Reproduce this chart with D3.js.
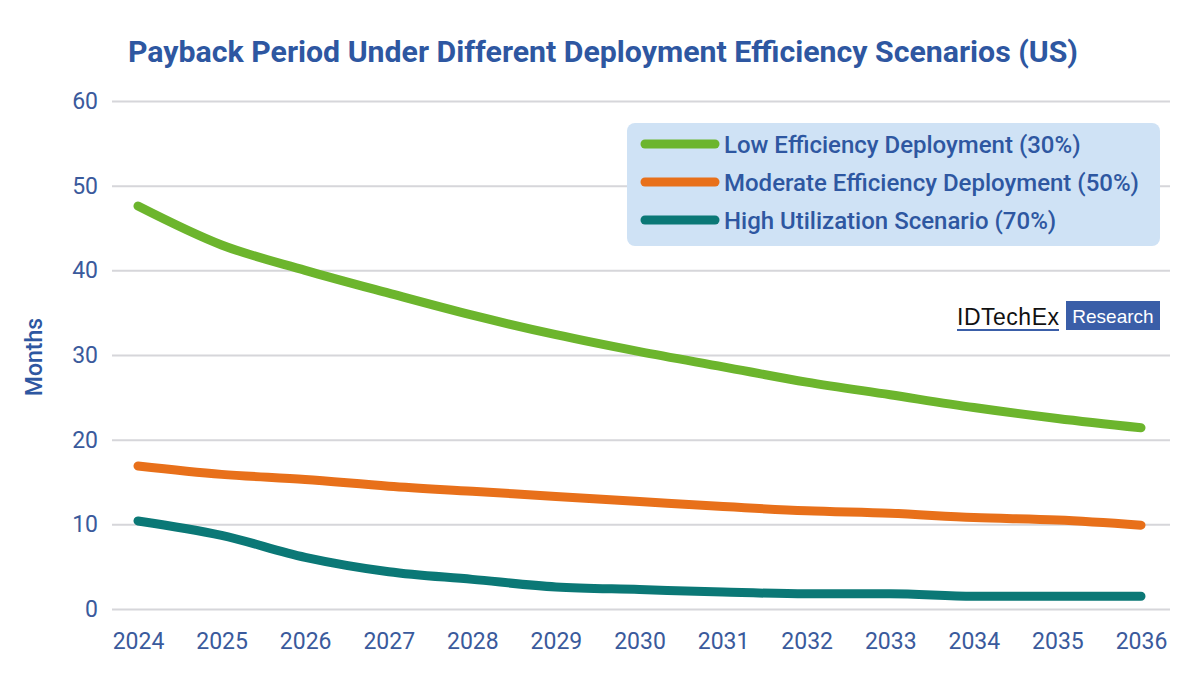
<!DOCTYPE html>
<html>
<head>
<meta charset="utf-8">
<script src="https://cdn.jsdelivr.net/npm/d3@7"></script>
<style>
  body { margin: 0; background: #fff; }
  svg { display: block; font-family: Roboto, 'Noto Sans', sans-serif; }
</style>
</head>
<body>
<svg id="chart" width="1200" height="675"></svg>
<script>
'use strict';

// Data.
const years = [2024, 2025, 2026, 2027, 2028, 2029, 2030, 2031, 2032, 2033, 2034, 2035, 2036];
const lowEff = [47.6, 43.0, 40.0, 37.3, 34.7, 32.4, 30.4, 28.6, 26.8, 25.3, 23.8, 22.5, 21.4];
const modEff = [16.9, 15.9, 15.3, 14.5, 13.9, 13.3, 12.7, 12.1, 11.6, 11.3, 10.8, 10.5, 9.9];
const highUtil = [10.4, 8.7, 6.1, 4.4, 3.5, 2.6, 2.3, 2.0, 1.8, 1.8, 1.5, 1.5, 1.5];
const seriesNames = ['Low Efficiency Deployment (30%)', 'Moderate Efficiency Deployment (50%)', 'High Utilization Scenario (70%)'];
const seriesColors = ['#6cb52d', '#e8701a', '#0b7876'];
const yTicks = [0, 10, 20, 30, 40, 50, 60];

const width = 1200;
const height = 675;
const margin = {top: 101, right: 30, bottom: 66, left: 112};
const innerWidth = width - margin.left - margin.right;

const svg = d3.select('#chart');
const g = svg.append('g').attr('transform', `translate(${margin.left},${margin.top})`);

//Scales. Points sit a little inside the gridlines on both sides.
const xScale = d3.scalePoint().domain(years).range([26, 1029]);
const yScale = d3.scaleLinear().domain([0, 60]).range([508, 0]);

// Title
svg.append('text')
  .attr('x', 603)
  .attr('y', 62)
  .attr('text-anchor', 'middle')
  .attr('textLength', 950)
  .attr('lengthAdjust', 'spacingAndGlyphs')
  .style('font-size', '29px')
  .style('font-weight', 'bold')
  .style('fill', '#2e57a1')
  .text('Payback Period Under Different Deployment Efficiency Scenarios (US)');

//Gridlines plus y labels.
const yAxis = d3.axisLeft(yScale).tickValues(yTicks).tickSize(-innerWidth).tickPadding(14);
const yG = g.append('g').call(yAxis);
yG.select('.domain').remove();
yG.selectAll('.tick line').style('stroke', '#d6d6da').style('stroke-width', 2);
yG.selectAll('.tick text').style('font-size', '23px').style('fill', '#3a5a9c').style('font-family', 'Roboto, sans-serif');

//x labels
const xAxis = d3.axisBottom(xScale).tickSize(0).tickPadding(24);
const xG = g.append('g').attr('transform', `translate(0,${yScale(0)})`).call(xAxis);
xG.select('.domain').remove();
xG.selectAll('.tick text').style('font-size', '23px').style('fill', '#3a5a9c').style('font-family', 'Roboto, sans-serif');

// Axis title
svg.append('text')
  .attr('transform', 'translate(42,357) rotate(-90)')
  .attr('text-anchor', 'middle')
  .style('font-size', '23px')
  .style('font-weight', 500)
  .style('fill', '#2e57a1')
  .text('Months');

//Lines
const line = d3.line()
  .x((d, i) => xScale(years[i]))
  .y((d) => yScale(d))
  .curve(d3.curveMonotoneX);

[lowEff, modEff, highUtil].forEach((vals, i) => {
  g.append('path')
    .datum(vals)
    .attr('d', line)
    .style('fill', 'none')
    .style('stroke', seriesColors[i])
    .style('stroke-width', 9)
    .style('stroke-linecap', 'round')
    .style('stroke-linejoin', 'round');
});

//Legend box
const legend = svg.append('g').attr('transform', 'translate(627,123)');
legend.append('rect')
  .attr('width', 533)
  .attr('height', 123)
  .attr('rx', 8)
  .style('fill', '#cfe2f5');
seriesNames.forEach((name, i) => {
  const yy = 21 + i * 38;
  legend.append('line')
    .attr('x1', 18).attr('x2', 88)
    .attr('y1', yy).attr('y2', yy)
    .style('stroke', seriesColors[i])
    .style('stroke-width', 9)
    .style('stroke-linecap', 'round');
  legend.append('text')
    .attr('x', 97)
    .attr('y', yy + 9)
    .style('font-size', '24px')
    .style('font-weight', 500)
    .style('fill', '#2e57a1')
    .text(name);
});

//IDTechEx mark
const logo = svg.append('g').attr('transform', 'translate(957,301)');
logo.append('text')
  .attr('x', 0).attr('y', 24)
  .style('font-family', "'Liberation Sans', Arial, sans-serif")
  .style('font-size', '23px')
  .style('fill', '#111')
  .attr('textLength', 102)
  .text('IDTechEx');
logo.append('line')
  .attr('x1', 0).attr('x2', 102)
  .attr('y1', 29).attr('y2', 29)
  .style('stroke', '#3a5ea8')
  .style('stroke-width', 2);
logo.append('rect')
  .attr('x', 109).attr('y', 0)
  .attr('width', 94).attr('height', 29)
  .style('fill', '#3a5ea8');
logo.append('text')
  .attr('x', 156).attr('y', 22)
  .attr('text-anchor', 'middle')
  .style('font-family', "'Liberation Sans', Arial, sans-serif")
  .style('font-size', '19px')
  .style('fill', '#fff')
  .text('Research');
</script>
</body>
</html>
